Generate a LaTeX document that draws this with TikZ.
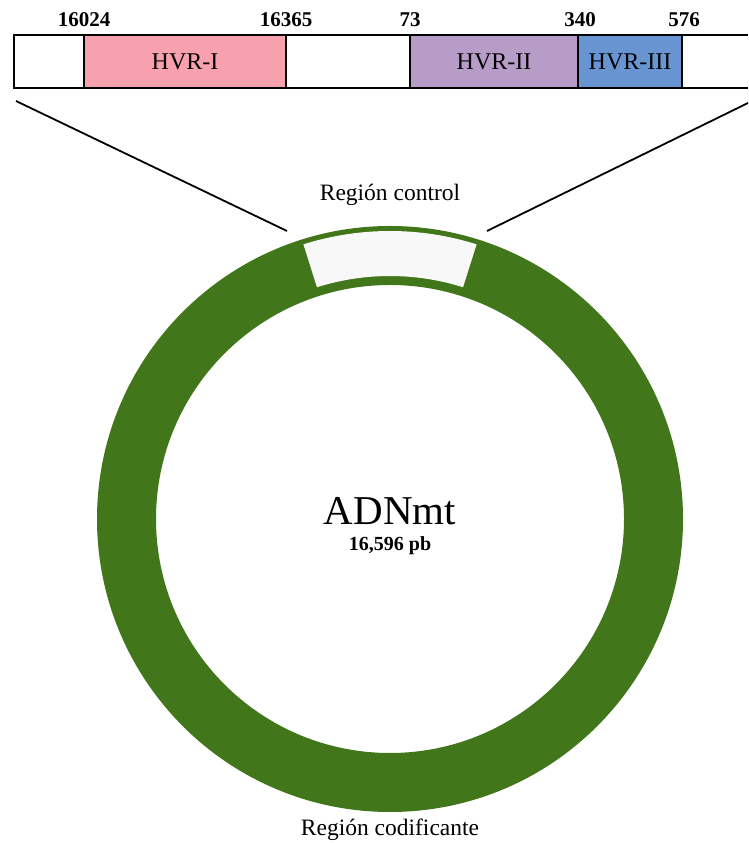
\documentclass[tikz,border=0pt]{standalone}
\usepackage{fontspec}
\setmainfont{Liberation Serif}
\usetikzlibrary{calc}
\definecolor{ringgreen}{RGB}{65,118,26}
\definecolor{hvrone}{RGB}{248,161,174}
\definecolor{hvrtwo}{RGB}{184,156,200}
\definecolor{hvrthree}{RGB}{104,149,210}
\definecolor{ctrlwhite}{RGB}{248,248,248}
\begin{document}
\begin{tikzpicture}[x=1pt,y=1pt,
  seg/.style={draw=black,line width=1.5pt},
  numlbl/.style={font=\fontsize{21}{21}\selectfont\bfseries,inner sep=0pt},
  hvrlbl/.style={font=\fontsize{24}{24}\selectfont,inner sep=0pt},
  reglbl/.style={font=\fontsize{23.5}{23.5}\selectfont,inner sep=0pt},
  zoomline/.style={line width=1.8pt,black}]
\useasboundingbox (0,0) rectangle (748,843);
% ring
\fill[ringgreen,even odd rule] (390,324) circle (293) (390,324) circle (234);
\fill[ctrlwhite] ($(390,324)+(72.5:288)$) arc (72.5:107.5:288) -- ($(390,324)+(107.5:243)$) arc (107.5:72.5:243) -- cycle;
% bar
\fill[white] (14,755) rectangle (84,808);
\fill[hvrone] (84,755) rectangle (286,808);
\fill[white] (286,755) rectangle (410,808);
\fill[hvrtwo] (410,755) rectangle (578,808);
\fill[hvrthree] (578,755) rectangle (682,808);
\fill[white] (682,755) rectangle (748,808);
\draw[seg] (748,808) -- (14,808) -- (14,755) -- (748,755);
\foreach \xx in {84,286,410,578,682} \draw[seg] (\xx,755) -- (\xx,808);
% labels
\node[hvrlbl] (h1) at (185,781) {HVR-I};
\node[hvrlbl] (h2) at (494,781) {HVR-II};
\node[hvrlbl] (h3) at (630,781) {HVR-III};
\node[numlbl] (n1) at (84,823) {16024};
\node[numlbl] (n2) at (286,823) {16365};
\node[numlbl] (n3) at (410,823) {73};
\node[numlbl] (n4) at (580,823) {340};
\node[numlbl] (n5) at (684,823) {576};
\node[reglbl] (rc) at (390,648) {Región control};
\node[font=\fontsize{41}{41}\selectfont,inner sep=0pt] (adn) at (390,332) {ADNmt};
\node[font=\fontsize{20}{20}\selectfont\bfseries,inner sep=0pt] (pb) at (390,297) {16,596 pb};
\node[reglbl] (cod) at (390,13) {Región codificante};
% zoom lines
\coordinate (la) at (16,742);
\coordinate (lb) at (287,612);
\coordinate (ra) at (748,740);
\coordinate (rb) at (487,612);
\draw[zoomline] (la) -- (lb);
\draw[zoomline] (ra) -- (rb);
\end{tikzpicture}
\end{document}
